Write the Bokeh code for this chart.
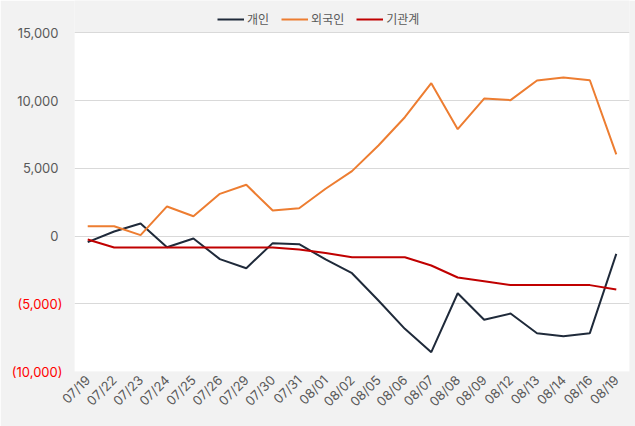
from bokeh.plotting import figure
from bokeh.models import (Range1d, FixedTicker, Legend, LegendItem, NumeralTickFormatter,
                          LinearAxis, BoxAnnotation)
from bokeh.embed import file_html
from bokeh.resources import INLINE
import math

dates = ["07/19", "07/22", "07/23", "07/24", "07/25", "07/26", "07/29", "07/30", "07/31",
         "08/01", "08/02", "08/05", "08/06", "08/07", "08/08", "08/09", "08/12", "08/13",
         "08/14", "08/16", "08/19"]
individual = [-450, 340, 930, -820, -180, -1700, -2370, -520, -600,
              -1720, -2740, -4760, -6850, -8570, -4220, -6180, -5720, -7170,
              -7390, -7170, -1310]
foreign = [730, 730, 70, 2190, 1470, 3120, 3790, 1890, 2060,
           3500, 4800, 6690, 8780, 11290, 7900, 10160, 10040, 11490,
           11710, 11510, 6030]
institution = [-250, -840, -840, -840, -840, -840, -840, -840, -990,
               -1250, -1560, -1560, -1560, -2170, -3060, -3330, -3620, -3620,
               -3620, -3620, -3940]
series_names = ["개인", "외국인", "기관계"]
series_colors = ["#1f2a3a", "#ed7d31", "#c00000"]
pos_ticks = [0, 5000, 10000, 15000]
neg_ticks = [-10000, -5000]
neg_tick_labels = ["(10,000)", "(5,000)"]
y_min, y_max = -10000, 15000

FONT = "Inter, 'Noto Sans CJK KR', sans-serif"
GRAY = "#595959"
BG = "#f2f2f2"

p = figure(x_range=dates, y_range=Range1d(y_min, 17400), width=635, height=426,
           output_backend="svg", toolbar_location=None,
           background_fill_color=BG, border_fill_color=BG,
           min_border_left=74, min_border_right=6, min_border_top=0, min_border_bottom=55)
p.outline_line_color = None
p.x_range.range_padding = 0.0

# white plotting area spanning the value range
p.add_layout(BoxAnnotation(bottom=y_min, top=y_max, fill_color="white", fill_alpha=1,
                           line_color=None, level="image"))

items = []
for name, vals, col in zip(series_names, [individual, foreign, institution], series_colors):
    r = p.line(dates, vals, line_color=col, line_width=2)
    items.append(LegendItem(label=name, renderers=[r]))

legend = Legend(items=items, orientation="horizontal", location=(143, 344),
                label_text_font=FONT, label_text_font_size="12px", label_text_color=GRAY,
                background_fill_alpha=0, border_line_color=None,
                glyph_width=27, glyph_height=12, label_height=14, label_standoff=3,
                spacing=12, padding=0, margin=0)
p.add_layout(legend, "center")

# inner axis: positive values in gray
ya = p.yaxis[0]
ya.ticker = FixedTicker(ticks=pos_ticks)
ya.formatter = NumeralTickFormatter(format="0,0")
ya.axis_line_color = None
ya.major_tick_line_color = None
ya.minor_tick_line_color = None
ya.major_tick_out = 0
ya.major_tick_in = 0
ya.major_label_text_font = FONT
ya.major_label_text_font_size = "13px"
ya.major_label_text_color = GRAY
ya.major_label_standoff = 16

# outer axis: negative values in red, pulled back over the inner axis
neg_axis = LinearAxis(ticker=FixedTicker(ticks=neg_ticks),
                      major_label_overrides=dict(zip(neg_ticks, neg_tick_labels)),
                      axis_line_color=None, major_tick_line_color=None,
                      minor_tick_line_color=None, major_tick_out=0, major_tick_in=0,
                      major_label_text_font=FONT, major_label_text_font_size="13px",
                      major_label_text_color="#ff0000", major_label_standoff=-48)
p.add_layout(neg_axis, "left")

p.xaxis.axis_line_color = None
p.xaxis.major_tick_line_color = None
p.xaxis.minor_tick_line_color = None
p.xaxis.major_tick_out = 0
p.xaxis.major_label_orientation = math.pi / 4
p.xaxis.major_label_text_font = FONT
p.xaxis.major_label_text_font_size = "13px"
p.xaxis.major_label_text_color = GRAY
p.xaxis.major_label_standoff = 6

p.xgrid.grid_line_color = None
p.ygrid.grid_line_color = "#d9d9d9"
p.ygrid.grid_line_width = 1
p.ygrid.ticker = FixedTicker(ticks=neg_ticks + pos_ticks)

open("out.html", "w").write(file_html(p, INLINE))
